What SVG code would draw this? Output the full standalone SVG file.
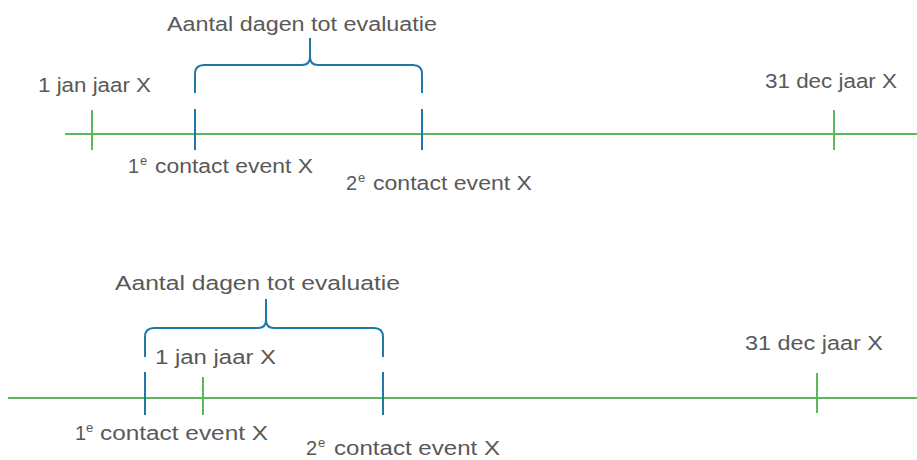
<svg xmlns="http://www.w3.org/2000/svg" width="917" height="460" viewBox="0 0 917 460">
<style>
.t{font-family:"Liberation Sans",Arial,sans-serif;font-size:20px;fill:#595959}
.sup{font-size:13px}
.g{stroke:#5cb85c;stroke-width:2;fill:none}
.b{stroke:#1f77a8;stroke-width:2;fill:none}
</style>
<rect width="917" height="460" fill="#ffffff"/>
<g id="connectors">
<line class="g" x1="65" y1="134" x2="917" y2="134"/>
<line class="g" x1="8" y1="398" x2="917" y2="398"/>
</g>
<g id="top-timeline">
<g id="t-jan"><line class="g" x1="92" y1="110" x2="92" y2="150"/><text class="t" x="38" y="92" textLength="113" lengthAdjust="spacingAndGlyphs">1 jan jaar X</text></g>
<g id="t-dec"><line class="g" x1="834" y1="110" x2="834" y2="150"/><text class="t" x="765" y="88" textLength="132" lengthAdjust="spacingAndGlyphs">31 dec jaar X</text></g>
<g id="t-c1"><line class="b" x1="195" y1="109" x2="195" y2="150"/><text class="t" x="128" y="173">1<tspan class="sup" x="140" y="165">e</tspan><tspan x="155" y="173" textLength="158" lengthAdjust="spacingAndGlyphs">contact event X</tspan></text></g>
<g id="t-c2"><line class="b" x1="422" y1="109" x2="422" y2="150"/><text class="t" x="346" y="190">2<tspan class="sup" x="358" y="182">e</tspan><tspan x="373" y="190" textLength="159" lengthAdjust="spacingAndGlyphs">contact event X</tspan></text></g>
<g id="t-brace"><path class="b" d="M195,93 V74 Q195,65 204,65 H302 Q310,65 310,57 V38 M310,57 Q310,65 318,65 H413 Q422,65 422,74 V93"/><text class="t" x="167" y="31" textLength="270" lengthAdjust="spacingAndGlyphs">Aantal dagen tot evaluatie</text></g>
</g>
<g id="bottom-timeline">
<g id="b-c1"><line class="b" x1="145" y1="372" x2="145" y2="415"/><text class="t" x="75" y="440" font-size="21">1<tspan class="sup" x="86" y="432">e</tspan><tspan x="100" y="440" textLength="168" lengthAdjust="spacingAndGlyphs">contact event X</tspan></text></g>
<g id="b-jan"><line class="g" x1="203" y1="377" x2="203" y2="415"/><text class="t" x="155" y="364" textLength="121" lengthAdjust="spacingAndGlyphs">1 jan jaar X</text></g>
<g id="b-c2"><line class="b" x1="383" y1="372" x2="383" y2="415"/><text class="t" x="306" y="455" font-size="21">2<tspan class="sup" x="318" y="447">e</tspan><tspan x="334" y="455" textLength="166" lengthAdjust="spacingAndGlyphs">contact event X</tspan></text></g>
<g id="b-dec"><line class="g" x1="817" y1="373" x2="817" y2="413"/><text class="t" x="745" y="350" textLength="138" lengthAdjust="spacingAndGlyphs">31 dec jaar X</text></g>
<g id="b-brace"><path class="b" d="M145,357 V337 Q145,328 154,328 H258 Q266,328 266,320 V299 M266,320 Q266,328 274,328 H374 Q383,328 383,337 V357"/><text class="t" x="115" y="290" textLength="285" lengthAdjust="spacingAndGlyphs">Aantal dagen tot evaluatie</text></g>
</g>
</svg>
